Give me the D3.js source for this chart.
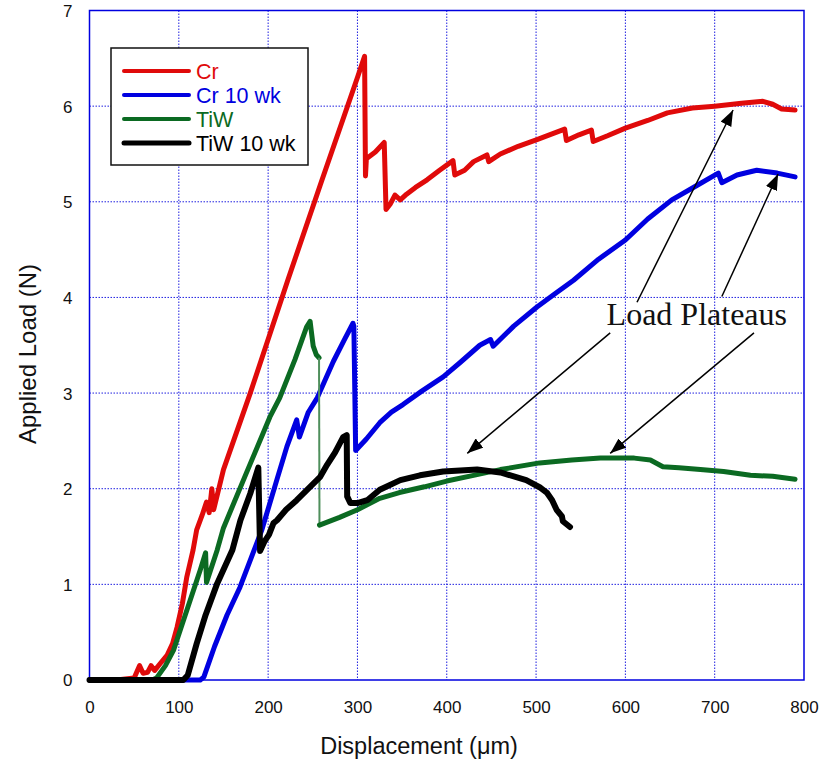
<!DOCTYPE html>
<html><head><meta charset="utf-8">
<script src="https://cdn.jsdelivr.net/npm/d3@7"></script>
<style>body{margin:0;background:#fff}svg{display:block}</style>
</head><body>
<script>
// ---------- DATA ----------
const xTicks = [0,100,200,300,400,500,600,700,800];
const yTicks = [0,1,2,3,4,5,6,7];
const seriesNames = ["Cr","Cr 10 wk","TiW","TiW 10 wk"];
const crData = [[0,0],[30,0],[50,0.02],[56,0.15],[60,0.07],[65,0.08],[69,0.15],[73,0.1],[79,0.17],[87,0.26],[93,0.38],[98,0.55],[104,0.8],[109,1.08],[116,1.36],[120,1.57],[126,1.72],[131,1.86],[134,1.75],[137,2.0],[139,1.78],[150,2.2],[180,3.0],[222,4.18],[260,5.22],[300,6.3],[308,6.52],[309,5.27],[310,5.45],[320,5.52],[330,5.62],[332,4.92],[337,4.98],[342,5.07],[348,5.02],[355,5.08],[365,5.15],[378,5.23],[392,5.33],[407,5.43],[409,5.28],[420,5.33],[430,5.42],[445,5.49],[447,5.42],[460,5.5],[480,5.58],[501,5.65],[515,5.7],[532,5.76],[534,5.64],[548,5.7],[562,5.75],[564,5.63],[580,5.69],[600,5.77],[625,5.85],[647,5.93],[675,5.98],[700,6.0],[730,6.03],[754,6.05],[765,6.02],[775,5.97],[790,5.96]];
const cr10Data = [[0,0],[124,0],[128,0.03],[140,0.35],[154,0.68],[168.5,0.97],[193,1.57],[210,2.1],[221,2.44],[232,2.72],[235,2.54],[245,2.8],[255,2.95],[273,3.33],[285,3.55],[295,3.73],[296,3.7],[298,2.4],[310,2.52],[325,2.69],[338,2.8],[351,2.88],[372,3.02],[396,3.17],[415,3.32],[437,3.5],[449,3.56],[452,3.49],[475,3.7],[501,3.9],[520,4.03],[542,4.18],[570,4.4],[600,4.6],[625,4.82],[652,5.02],[680,5.17],[704,5.3],[708,5.2],[725,5.28],[747,5.33],[770,5.3],[790,5.26]];
const tiwDataA = [[0,0],[70,0],[75,0.02],[85,0.15],[94,0.31],[109,0.73],[124,1.15],[130,1.33],[131,1.02],[143,1.36],[150,1.59],[175,2.15],[202,2.75],[213,2.95],[230,3.35],[243,3.69],[247,3.75],[249,3.6],[250.5,3.49],[254,3.4],[257,3.37]];
const tiwDataB = [[257.5,1.62],[280,1.7],[300,1.78],[325,1.9],[347,1.96],[375,2.02],[400,2.08],[430,2.14],[460,2.2],[504,2.27],[540,2.3],[572,2.32],[610,2.32],[628,2.3],[642,2.23],[660,2.22],[684,2.2],[710,2.18],[740,2.14],[765,2.13],[790,2.1]];
const tiw10Data = [[0,0],[105,0],[110,0.05],[120,0.38],[130,0.68],[143,1.01],[160,1.36],[169,1.67],[180,1.95],[189,2.22],[191,1.35],[196,1.45],[201,1.52],[206,1.64],[210,1.67],[220,1.78],[232,1.88],[245,2.0],[258,2.12],[266,2.25],[275,2.38],[284,2.54],[288,2.56],[288.5,1.92],[292,1.85],[300,1.85],[311,1.88],[325,1.99],[348,2.09],[370,2.14],[396,2.18],[434,2.2],[460,2.17],[489,2.09],[505,2.01],[512,1.96],[518,1.88],[523,1.78],[529,1.71],[530,1.66],[538,1.6]];
const annotationText = "Load Plateaus";
const annotationPos = [579, 3.71];
const arrows = [
  [[613,3.95],[720.6,5.96]],
  [[708,4.01],[771,5.29]],
  [[583,3.63],[423,2.37]],
  [[744,3.63],[583,2.37]]
];

// ---------- CHART ----------
const W = 819, H = 761;
const L = 89.5, R = 804, T = 10.5, B = 680;
const svg = d3.select("body").append("svg").attr("width", W).attr("height", H);
const x = d3.scaleLinear().domain([0,800]).range([L,R]);
const y = d3.scaleLinear().domain([0,7]).range([B,T]);
const font = "Liberation Sans, Arial, sans-serif";

// grid
const grid = svg.append("g");
grid.selectAll(".gx").data(xTicks.slice(1,-1)).enter().append("line")
  .attr("x1", d=>x(d)).attr("x2", d=>x(d)).attr("y1", T).attr("y2", B)
  .attr("stroke", "#1f1fe0").attr("stroke-width", 1).attr("stroke-dasharray", "1.5,1.5");
grid.selectAll(".gy").data(yTicks.slice(1,-1)).enter().append("line")
  .attr("y1", d=>y(d)).attr("y2", d=>y(d)).attr("x1", L).attr("x2", R)
  .attr("stroke", "#1f1fe0").attr("stroke-width", 1).attr("stroke-dasharray", "1.5,1.5");

// frame
svg.append("rect").attr("x", L).attr("y", T).attr("width", R-L).attr("height", B-T)
  .attr("fill", "none").attr("stroke", "#0000e0").attr("stroke-width", 1.5);

// axes (labels only)
const xAxis = d3.axisBottom(x).tickValues(xTicks).tickSize(0).tickPadding(0).tickFormat(d3.format("d"));
const gx = svg.append("g").attr("transform", `translate(0,${B})`).call(xAxis);
gx.select(".domain").remove();
gx.selectAll("text").attr("font-family", font).attr("font-size", 17).attr("fill", "#111")
  .attr("dy", null).attr("y", 33);
const yAxis = d3.axisLeft(y).tickValues(yTicks).tickSize(0).tickPadding(0).tickFormat(d3.format("d"));
const gy = svg.append("g").attr("transform", `translate(${L},0)`).call(yAxis);
gy.select(".domain").remove();
gy.selectAll("text").attr("font-family", font).attr("font-size", 17).attr("fill", "#111")
  .attr("x", -17).attr("dy", "0.35em");

// axis titles
svg.append("text").attr("x", 419).attr("y", 754).attr("text-anchor", "middle")
  .attr("font-family", font).attr("font-size", 23.5).attr("fill", "#111").text("Displacement (\u03bcm)");
svg.append("text").attr("transform", `translate(36,354) rotate(-90)`).attr("text-anchor", "middle")
  .attr("font-family", font).attr("font-size", 24).attr("fill", "#111").text("Applied Load (N)");

// lines
const line = d3.line().x(d=>x(d[0])).y(d=>y(d[1]));
const colors = ["#e00a0a","#0000e0","#0b6a22","#000000"];
const plot = svg.append("g");
function draw(data, color, w) {
  plot.append("path").datum(data).attr("d", line).attr("fill", "none")
    .attr("stroke", color).attr("stroke-width", w).attr("stroke-linejoin", "round").attr("stroke-linecap", "round");
}
draw(crData, colors[0], 5);
draw(cr10Data, colors[1], 5);
draw(tiwDataA, colors[2], 5);
plot.append("path").datum([tiwDataA[tiwDataA.length-1], tiwDataB[0]]).attr("d", line)
  .attr("fill","none").attr("stroke", "#4f8f5c").attr("stroke-width", 2);
draw(tiwDataB, colors[2], 5);
draw(tiw10Data, colors[3], 6);

// legend
const lg = svg.append("g").attr("transform", "translate(111,48)");
lg.append("rect").attr("width", 197).attr("height", 117).attr("fill", "#fff").attr("stroke", "#111").attr("stroke-width", 1.5);
seriesNames.forEach((n,i) => {
  const yy = 23 + i*24;
  lg.append("line").attr("x1", 13).attr("x2", 78).attr("y1", yy).attr("y2", yy)
    .attr("stroke", colors[i]).attr("stroke-width", i===3?5:4).attr("stroke-linecap","round");
  lg.append("text").attr("x", 85).attr("y", yy).attr("dy", "0.36em")
    .attr("font-family", font).attr("font-size", 21.5).attr("fill", colors[i]).text(n);
});

// annotation
svg.append("text").attr("x", x(annotationPos[0])).attr("y", y(annotationPos[1]))
  .attr("font-family", "Liberation Serif, Times New Roman, serif").attr("font-size", 32).attr("fill", "#111")
  .text(annotationText);
const defs = svg.append("defs");
defs.append("marker").attr("id","ah").attr("viewBox","0 0 16 12").attr("refX",16).attr("refY",6)
  .attr("markerWidth",16).attr("markerHeight",12).attr("markerUnits","userSpaceOnUse").attr("orient","auto")
  .append("path").attr("d","M0,0 L16,6 L0,12 Z").attr("fill","#000");
svg.selectAll(".arr").data(arrows).enter().append("line")
  .attr("x1", d=>x(d[0][0])).attr("y1", d=>y(d[0][1]))
  .attr("x2", d=>x(d[1][0])).attr("y2", d=>y(d[1][1]))
  .attr("stroke", "#000").attr("stroke-width", 1.5).attr("marker-end", "url(#ah)");
</script>
</body></html>
